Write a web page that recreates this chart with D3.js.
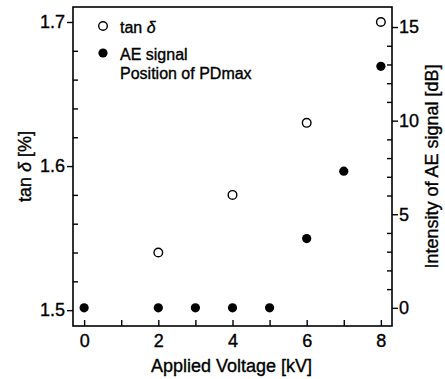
<!DOCTYPE html>
<html>
<head>
<meta charset="utf-8">
<script src="https://cdn.jsdelivr.net/npm/d3@7"></script>
<style>
  body { margin: 0; background: #fff; }
  svg { font-family: "Liberation Sans", Arial, sans-serif; }
  svg text { stroke: #000; stroke-width: 0.35px; }
</style>
</head>
<body>
<div class="chart"></div>
<script>
// tan delta (open circles, left axis)
var tanVoltage = [2, 4, 6, 8];
var tanDelta = [1.54, 1.58, 1.63, 1.70];

// AE signal intensity (filled circles, right axis)
var aeVoltage = [0, 2, 3, 4, 5, 6, 7, 8];
var aeSignal = [0, 0, 0, 0, 0, 3.7, 7.3, 12.9];

var xTicks = [0, 1, 2, 3, 4, 5, 6, 7, 8];
var leftMajor = [1.5, 1.6, 1.7];
var leftMinor = [1.52, 1.54, 1.56, 1.58, 1.62, 1.64, 1.66, 1.68];
var rightMajor = [0, 5, 10, 15];
var rightMinor = [1, 2, 3, 4, 6, 7, 8, 9, 11, 12, 13, 14];

var legendLabels = ["tan", "AE signal", "Position of PDmax"];

var width = 445, height = 379;
var plotL = 73, plotR = 392, plotT = 7, plotB = 326;

var svg = d3.select(".chart").append("svg")
  .attr("width", width)
  .attr("height", height);

var x = d3.scaleLinear().domain([-0.3, 8.3]).range([plotL, plotR]);
var yL = d3.scaleLinear().domain([1.489, 1.7104]).range([plotB, plotT]);
var yR = d3.scaleLinear().domain([-0.97, 16.07]).range([plotB, plotT]);

var styleAxis = function(g) {
  g.select(".domain").remove();
  g.selectAll("line").attr("stroke", "#000").attr("stroke-width", 1.4);
  g.selectAll("text").attr("fill", "#000").attr("font-size", "18px")
    .attr("font-family", "Liberation Sans, Arial, sans-serif");
};

// bottom axis, ticks inward
svg.append("g")
  .attr("transform", "translate(0," + plotB + ")")
  .call(d3.axisBottom(x).tickValues(xTicks).tickSize(-6).tickPadding(8)
    .tickFormat(function(d) { return d % 2 === 0 ? d : ""; }))
  .call(styleAxis);

// left axis: minor inward, major outward
svg.append("g")
  .attr("transform", "translate(" + plotL + ",0)")
  .call(d3.axisLeft(yL).tickValues(leftMinor).tickSize(-5).tickFormat(""))
  .call(styleAxis);
svg.append("g")
  .attr("transform", "translate(" + plotL + ",0)")
  .call(d3.axisLeft(yL).tickValues(leftMajor).tickSize(6).tickPadding(2)
    .tickFormat(d3.format(".1f")))
  .call(styleAxis);

// right axis: minor inward, major outward
svg.append("g")
  .attr("transform", "translate(" + plotR + ",0)")
  .call(d3.axisRight(yR).tickValues(rightMinor).tickSize(-5).tickFormat(""))
  .call(styleAxis);
svg.append("g")
  .attr("transform", "translate(" + plotR + ",0)")
  .call(d3.axisRight(yR).tickValues(rightMajor).tickSize(6).tickPadding(1))
  .call(styleAxis);

// frame
svg.append("rect")
  .attr("x", plotL).attr("y", plotT)
  .attr("width", plotR - plotL).attr("height", plotB - plotT)
  .attr("fill", "none").attr("stroke", "#000").attr("stroke-width", 1.6);

// axis titles
svg.append("text")
  .attr("x", (plotL + plotR) / 2 - 1).attr("y", 372)
  .attr("text-anchor", "middle").attr("font-size", "18px")
  .text("Applied Voltage [kV]");

var lt = svg.append("text")
  .attr("transform", "translate(31," + (plotT + plotB) / 2 + ") rotate(-90)")
  .attr("text-anchor", "middle").attr("font-size", "18px");
lt.append("tspan").text("tan ");
lt.append("tspan").attr("font-style", "italic").text("δ");
lt.append("tspan").text(" [%]");

svg.append("text")
  .attr("transform", "translate(438," + (plotT + plotB) / 2 + ") rotate(-90)")
  .attr("text-anchor", "middle").attr("font-size", "18px")
  .text("Intensity of AE signal [dB]");

// data points
svg.selectAll("circle.ae").data(aeVoltage).enter().append("circle")
  .attr("class", "ae")
  .attr("cx", function(d) { return x(d); })
  .attr("cy", function(d, i) { return yR(aeSignal[i]); })
  .attr("r", 4.6)
  .attr("fill", "#000");

svg.selectAll("circle.tan").data(tanVoltage).enter().append("circle")
  .attr("class", "tan")
  .attr("cx", function(d) { return x(d); })
  .attr("cy", function(d, i) { return yL(tanDelta[i]); })
  .attr("r", 4.3)
  .attr("fill", "#fff")
  .attr("stroke", "#000")
  .attr("stroke-width", 1.4);

// legend
var legend = svg.append("g").attr("font-size", "16px");
legend.append("circle").attr("cx", 103).attr("cy", 26).attr("r", 4.3)
  .attr("fill", "#fff").attr("stroke", "#000").attr("stroke-width", 1.4);
var l1 = legend.append("text").attr("x", 120).attr("y", 33);
l1.append("tspan").text(legendLabels[0] + " ");
l1.append("tspan").attr("font-style", "italic").text("δ");

legend.append("circle").attr("cx", 103).attr("cy", 53).attr("r", 4.6).attr("fill", "#000");
legend.append("text").attr("x", 120).attr("y", 60).text(legendLabels[1]);
legend.append("text").attr("x", 120).attr("y", 79).text(legendLabels[2]);
</script>
</body>
</html>
